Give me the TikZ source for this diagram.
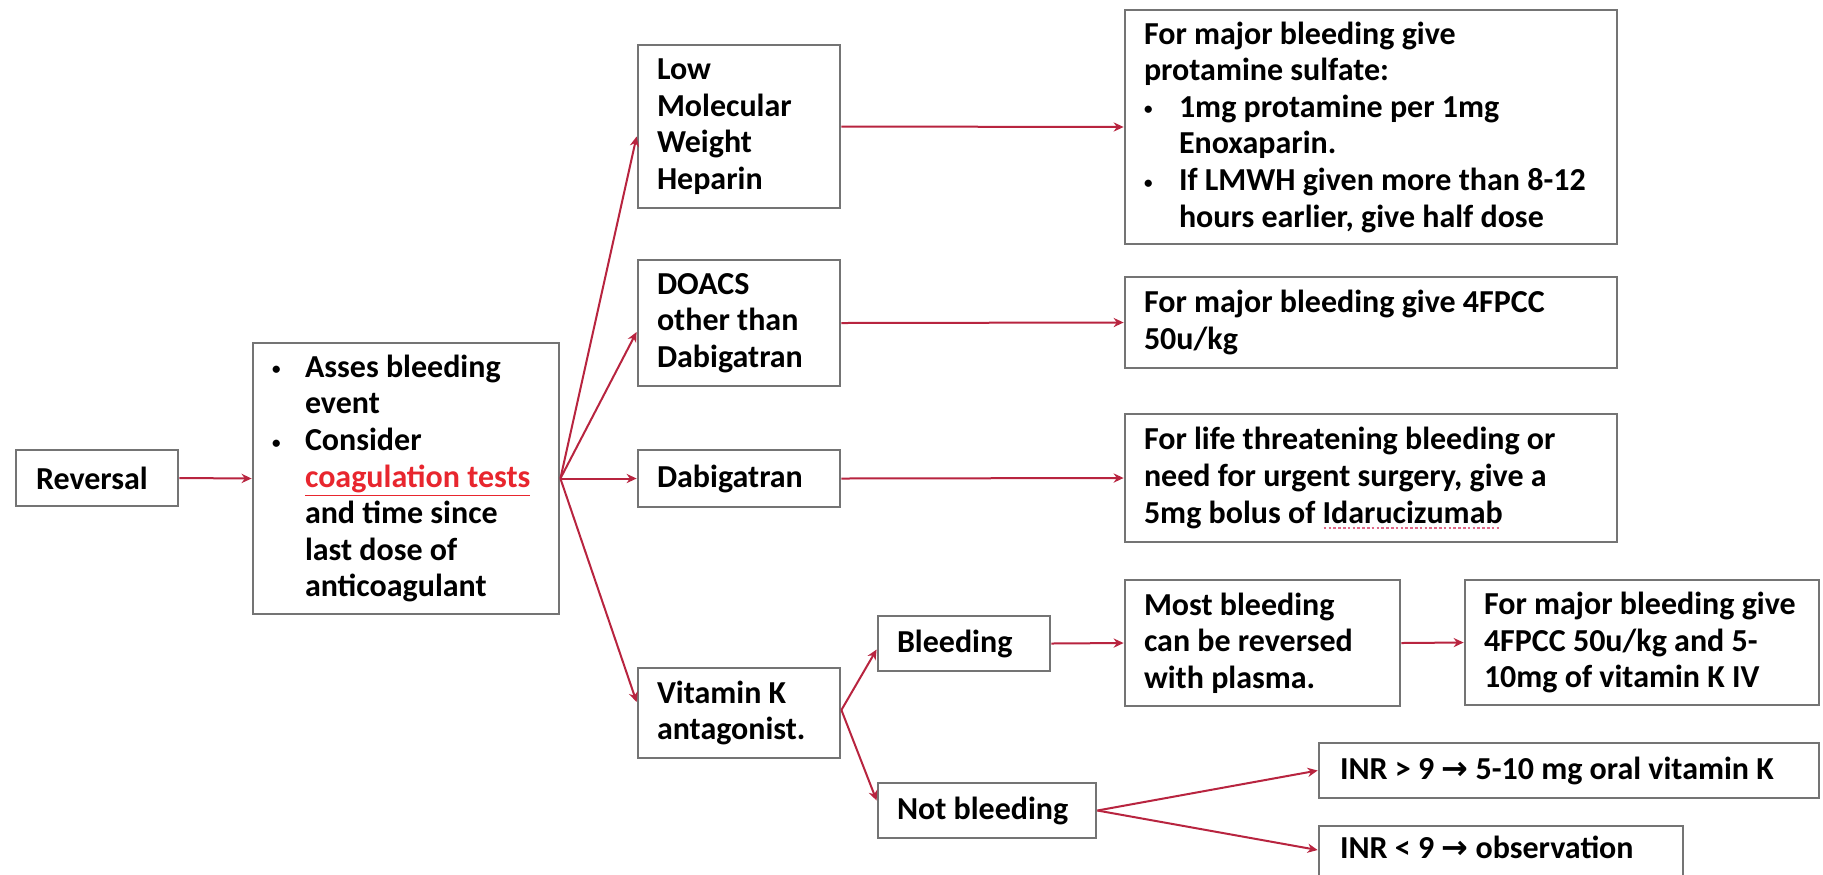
\documentclass[tikz,border=0pt]{standalone}
\usepackage{fontspec}
\setmainfont{Carlito}
\newfontfamily\arrowfont{DejaVu Sans}
\usetikzlibrary{arrows.meta}
\definecolor{boxgray}{HTML}{747474}
\definecolor{linkred}{HTML}{B8243F}
\definecolor{txtred}{HTML}{E8262E}
\definecolor{spellred}{HTML}{E06A8A}
\newsavebox\spellbox
\newcommand\spellwave[1]{\sbox\spellbox{#1}\rlap{\raisebox{-2.8pt}{\textcolor{spellred}{\hbox to \wd\spellbox{\leaders\hbox to 2.4pt{\hss\rule{1.3pt}{0.8pt}\hss}\hfill}}}}\usebox\spellbox}
\newcommand\smallbul{\raisebox{1.2pt}{\fontsize{8.5pt}{8.5pt}\selectfont •}}
\newcommand\bul{\makebox[16.5pt][l]{\smallbul}}
\newcommand\ind{\hspace*{16.5pt}}
\newcommand\bulb{\makebox[17.5pt][l]{\smallbul}}
\newcommand\indb{\hspace*{17.5pt}}
\newcommand\bx[5]{\node[box,minimum width={(#4-#2)*0.5pt},minimum height={(#5-#3)*0.5pt}] (#1) at ({(#2+#4)/2},{(#3+#5)/2}) {};}
\begin{document}
\begin{tikzpicture}[x=0.5pt,y=-0.5pt,
  box/.style={draw=boxgray,line width=1.4pt,rectangle,inner sep=0pt,fill=white},
  txt/.style={anchor=west,align=left,inner sep=0pt,text=black,
    font=\bfseries\fontsize{16pt}{18.3pt}\selectfont},
  conn/.style={draw=linkred,line width=1pt,-{Stealth[length=5pt,width=4.6pt]}}]
\useasboundingbox (0,0) rectangle (1823,874);
\fill[white] (0,0) rectangle (1823,874);
\bx{rev}{16}{450}{178}{506}
\bx{assess}{253}{343}{559}{614}
\bx{lmwh}{638}{45}{840}{208}
\bx{doacs}{638}{260}{840}{386}
\bx{dabi}{638}{450}{840}{507}
\bx{vka}{638}{668}{840}{758}
\bx{prot}{1125}{10}{1617}{244}
\bx{pcc}{1125}{277}{1617}{368}
\bx{ida}{1125}{414}{1617}{542}
\bx{bleed}{878}{616}{1050}{671}
\bx{notb}{878}{783}{1096}{838}
\bx{most}{1125}{580}{1400}{706}
\bx{final}{1465}{580}{1819}{705}
\bx{inra}{1319}{743}{1819}{798}
\bx{inrb}{1319}{826}{1683}{884}
% texts
\node[txt] (revt) at ([xshift=10.5pt]rev.west) {Reversal};
\node[txt] (assesst) at ([xshift=10pt]assess.west) {\bul Asses bleeding\\
\ind event\\
\bul Consider\\
\ind{\color{txtred}\underline{coagulation tests}}\\
\ind and time since\\
\ind last dose of\\
\ind anticoagulant};
\node[txt] (lmwht) at ([xshift=10pt]lmwh.west) {Low\\Molecular\\Weight\\Heparin};
\node[txt] (doacst) at ([xshift=10pt]doacs.west) {DOACS\\other than\\Dabigatran};
\node[txt] (dabit) at ([xshift=10pt]dabi.west) {Dabigatran};
\node[txt] (vkat) at ([xshift=10pt]vka.west) {Vitamin K\\antagonist.};
\node[txt] (prott) at ([xshift=10pt]prot.west) {For major bleeding give\\
protamine sulfate:\\
\bulb 1mg protamine per 1mg\\
\indb Enoxaparin.\\
\bulb If LMWH given more than 8-12\\
\indb hours earlier, give half dose};
\node[txt] (pcct) at ([xshift=10pt]pcc.west) {For major bleeding give 4FPCC\\50u/kg};
\node[txt] (idat) at ([xshift=10pt]ida.west) {For life threatening bleeding or\\
need for urgent surgery, give a\\
5mg bolus of \spellwave{Idarucizumab}};
\node[txt] (bleedt) at ([xshift=10pt]bleed.west) {Bleeding};
\node[txt] (notbt) at ([xshift=10pt]notb.west) {Not bleeding};
\node[txt] (mostt) at ([xshift=10pt]most.west) {Most bleeding\\can be reversed\\with plasma.};
\node[txt] (finalt) at ([xshift=10pt]final.west) {For major bleeding give\\4FPCC 50u/kg and 5-\\10mg of vitamin K IV};
\node[txt] (inrat) at ([xshift=11pt]inra.west) {INR > 9 {\arrowfont\bfseries →} 5-10 mg oral vitamin K};
\node[txt] (inrbt) at ([xshift=11pt,yshift=4pt]inrb.west) {INR < 9 {\arrowfont\bfseries →} observation};
% connectors
\draw[conn] (rev.east) -- (assess.west);
\draw[conn] (assess.east) -- ([yshift=-5pt]lmwh.west);
\draw[conn] (assess.east) -- ([yshift=-4.5pt]doacs.west);
\draw[conn] (assess.east) -- (dabi.west);
\draw[conn] (assess.east) -- ([yshift=5.5pt]vka.west);
\draw[conn] (lmwh.east) -- (prot.west);
\draw[conn] (doacs.east) -- (pcc.west);
\draw[conn] (dabi.east) -- (ida.west);
\draw[conn] ([yshift=1.5pt]vka.east) -- ([yshift=-3pt]bleed.west);
\draw[conn] ([yshift=1.5pt]vka.east) -- ([yshift=5pt]notb.west);
\draw[conn] (bleed.east) -- (most.west);
\draw[conn] (most.east) -- (final.west);
\draw[conn] (notb.east) -- (inra.west);
\draw[conn] (notb.east) -- ([yshift=2.5pt]inrb.west);
\end{tikzpicture}
\end{document}
